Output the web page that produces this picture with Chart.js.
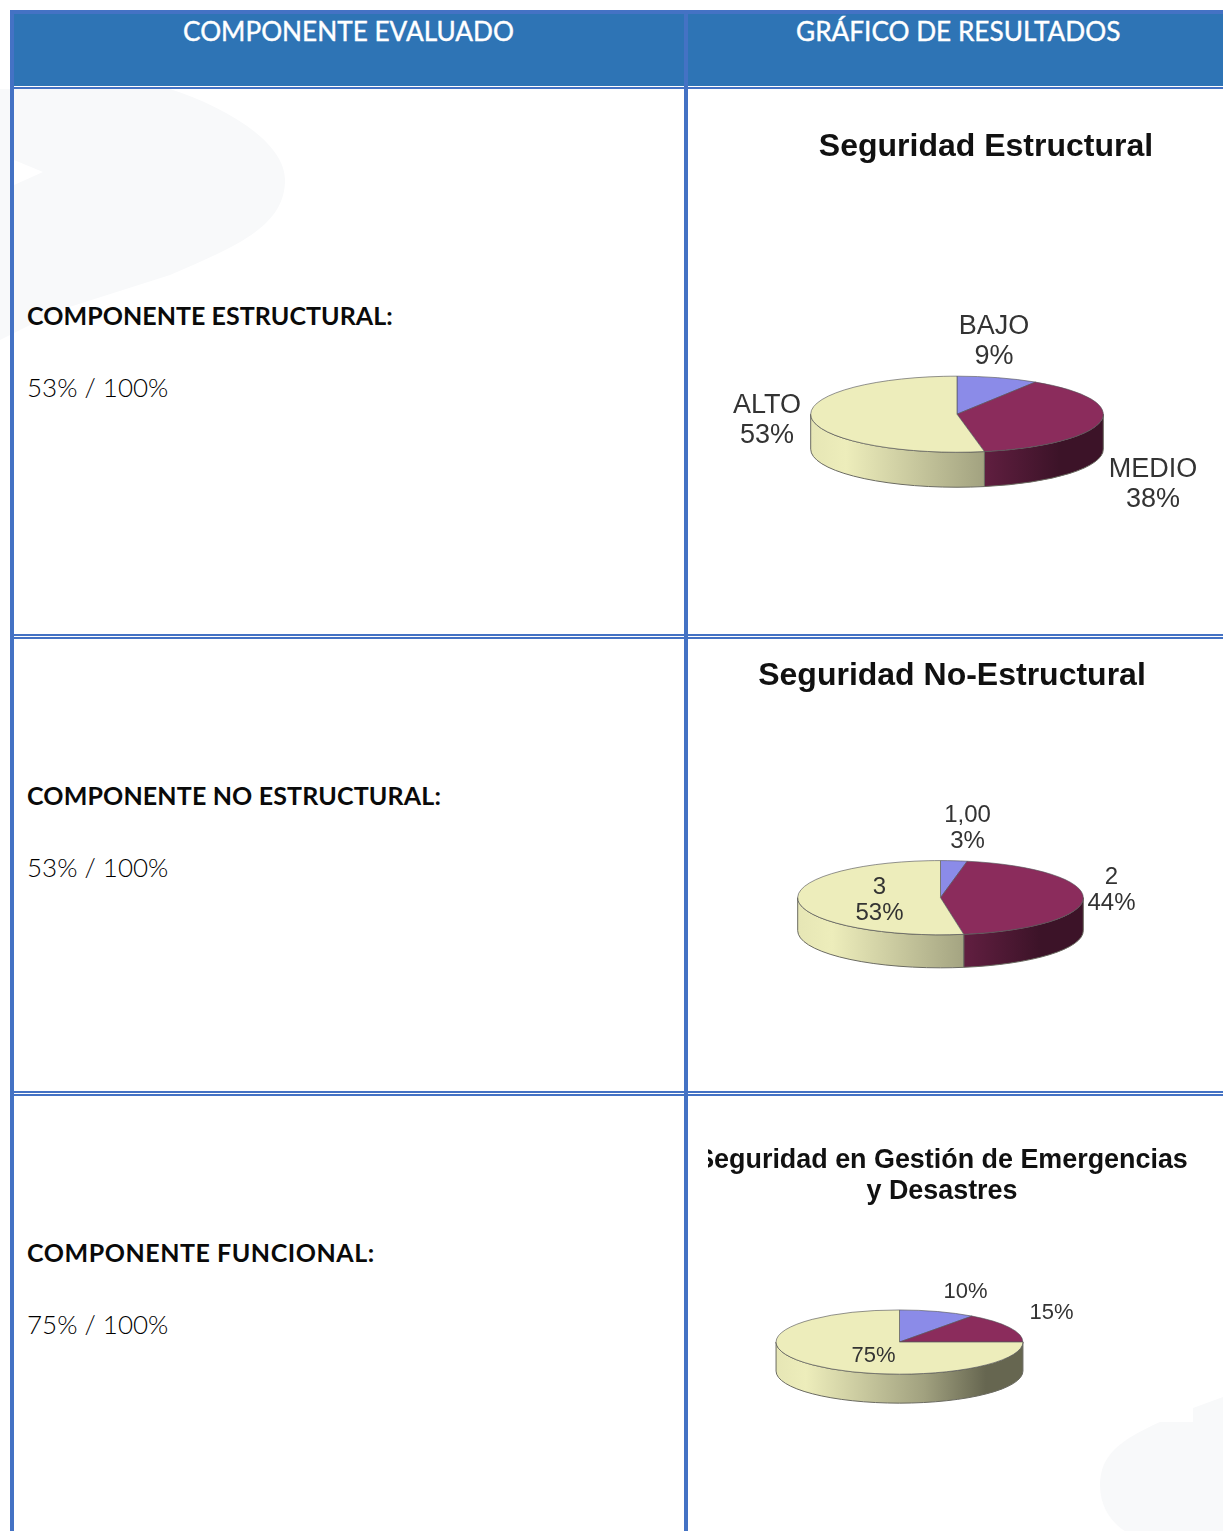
<!DOCTYPE html>
<html>
<head>
<meta charset="utf-8">
<script src="https://cdn.jsdelivr.net/npm/chart.js@4"></script>
<style>
html, body { margin: 0; padding: 0; background: #fff; }
body { position: relative; width: 1223px; height: 1531px; overflow: hidden; font-family: Lato, sans-serif; }
.abs { position: absolute; }
.line { position: absolute; background: #4472c4; }
.head { position: absolute; top: 13px; height: 36px; line-height: 36px; color: #fff; font-size: 26.2px; font-weight: 400; -webkit-text-stroke: 0.4px #fff; white-space: nowrap; }
.name { position: absolute; left: 27px; font-size: 25px; font-weight: 700; letter-spacing: 0.05px; line-height: 32px; color: #0a0a0a; white-space: nowrap; }
.score { position: absolute; left: 27px; font-size: 26px; font-weight: 300; line-height: 32px; color: #000; white-space: nowrap; }
canvas { position: absolute; }
</style>
</head>
<body>
<svg class="abs" style="left:0;top:0" width="1223" height="1531">
  <path fill="#f8f9fa" d="M0 89 L170 89 C220 105 285 140 285 180 C285 225 240 245 170 275 L60 310 L0 340 Z M14 160 L43 172 L14 185 Z" fill-rule="evenodd"/>
  <path fill="#f8f9fa" d="M1223 1397 L1193 1408 L1193 1422 L1160 1422 C1120 1440 1100 1455 1100 1485 C1100 1510 1115 1525 1125 1531 L1223 1531 Z"/>
</svg>

<div class="abs" style="left:10px;top:10px;width:1213px;height:76px;background:#2e74b5"></div>
<div class="line" style="left:10px;top:10px;width:1213px;height:4px"></div>
<div class="line" style="left:10px;top:10px;width:4px;height:1521px"></div>
<div class="line" style="left:684px;top:10px;width:4px;height:1521px"></div>
<div class="line" style="left:12px;top:87px;width:1211px;height:2px"></div>
<div class="line" style="left:12px;top:634px;width:1211px;height:2px"></div>
<div class="line" style="left:12px;top:637px;width:1211px;height:2px"></div>
<div class="line" style="left:12px;top:1091px;width:1211px;height:2px"></div>
<div class="line" style="left:12px;top:1094px;width:1211px;height:2px"></div>

<div class="head" style="left:183px">COMPONENTE EVALUADO</div>
<div class="head" style="left:796px">GRÁFICO DE RESULTADOS</div>

<div class="name" style="top:299px">COMPONENTE ESTRUCTURAL:</div>
<div class="score" style="top:371px">53% / 100%</div>
<div class="name" style="top:779px;letter-spacing:0.15px">COMPONENTE NO ESTRUCTURAL:</div>
<div class="score" style="top:851px">53% / 100%</div>
<div class="name" style="top:1236px;letter-spacing:0.55px">COMPONENTE FUNCIONAL:</div>
<div class="score" style="top:1308px">75% / 100%</div>

<canvas id="chartEstructural" style="left:690px;top:90px" width="533" height="544"></canvas>
<canvas id="chartNoEstructural" style="left:690px;top:639px" width="533" height="452"></canvas>
<canvas id="chartFuncional" style="left:690px;top:1096px;clip-path:inset(0 0 0 18px)" width="533" height="435"></canvas>

<script>
// Values
const estructuralLabels = ['BAJO', 'MEDIO', 'ALTO'];
const estructuralValues = [9, 38, 53];
const noEstructuralLabels = ['1,00', '2', '3'];
const noEstructuralValues = [3, 44.4, 52.6];
const funcionalLabels = ['', '', ''];
const funcionalValues = [10, 15, 75];

const sliceColors = ['#8b8be8', '#8b2c5c', '#ededbb'];
const sliceRgb = [[139, 139, 232], [139, 44, 92], [237, 237, 187]];
// darkening of the side wall from left to right
const sideStops = [[0, 0.97], [0.12, 1], [0.6, 0.68], [0.85, 0.43], [1, 0.43]];

// Flattens the pie into an ellipse and draws the wall under it
const pie3d = {
    id: 'pie3d',
    afterLayout(chart, args, opts) {
        // title is not centred on the pie in the original
        chart.titleBlock.left = opts.titleCenter - 400;
        chart.titleBlock.right = opts.titleCenter + 400;
    },
    beforeDatasetsDraw(chart, args, opts) {
        const ctx = chart.ctx;
        const arcs = chart.getDatasetMeta(0).data;
        const cx = arcs[0].x, cy = arcs[0].y, r = arcs[0].outerRadius;
        const ry = r * opts.squash;
        arcs.forEach(function(arc, i) {
            const a1 = Math.max(arc.startAngle, 0);
            const a2 = Math.min(arc.endAngle, Math.PI);
            if (a1 >= a2) return;
            const grad = ctx.createLinearGradient(cx - r, 0, cx + r, 0);
            sideStops.forEach(function(s) {
                const c = sliceRgb[i].map(v => Math.round(v * s[1]));
                grad.addColorStop(s[0], 'rgb(' + c.join(',') + ')');
            });
            ctx.beginPath();
            ctx.ellipse(cx, cy, r, ry, 0, a1, a2);
            ctx.ellipse(cx, cy + opts.depth, r, ry, 0, a2, a1, true);
            ctx.closePath();
            ctx.fillStyle = grad;
            ctx.fill();
            ctx.strokeStyle = '#6a6a60';
            ctx.lineWidth = 1;
            ctx.stroke();
        });
        ctx.save();
        ctx.translate(cx, cy);
        ctx.scale(1, opts.squash);
        ctx.translate(-cx, -cy);
    },
    afterDatasetsDraw(chart, args, opts) {
        const ctx = chart.ctx;
        ctx.restore();
        const arcs = chart.getDatasetMeta(0).data;
        const values = chart.data.datasets[0].data;
        ctx.save();
        ctx.fillStyle = '#333';
        ctx.font = opts.labelSize + 'px "Liberation Sans"';
        ctx.textAlign = 'center';
        ctx.textBaseline = 'middle';
        arcs.forEach(function(arc, i) {
            const x = arc.x + opts.labelOffsets[i][0];
            const y = arc.y + opts.labelOffsets[i][1];
            const name = chart.data.labels[i];
            if (name) {
                ctx.fillText(name, x, y - opts.labelLine);
            }
            ctx.fillText(Math.round(values[i]) + '%', x, y);
        });
        ctx.restore();
    }
};

function drawPie(id, labels, values, title, look) {
    new Chart(document.getElementById(id), {
        type: 'pie',
        data: {
            labels: labels,
            datasets: [{
                data: values,
                backgroundColor: sliceColors,
                borderColor: '#55555a',
                borderWidth: 1,
                clip: false
            }]
        },
        options: {
            responsive: false,
            animation: false,
            layout: { padding: look.padding },
            plugins: {
                legend: { display: false },
                tooltip: { enabled: false },
                title: {
                    display: true,
                    text: title,
                    color: '#111',
                    font: { family: '"Liberation Sans"', size: look.titleSize, weight: 'bold', lineHeight: look.titleLine },
                    padding: look.titlePadding
                },
                pie3d: {
                    squash: 0.26,
                    depth: look.depth,
                    titleCenter: look.titleCenter,
                    labelSize: look.labelSize,
                    labelLine: look.labelLine,
                    labelOffsets: look.labelOffsets
                }
            }
        },
        plugins: [pie3d]
    });
}

drawPie('chartEstructural', estructuralLabels, estructuralValues, 'Seguridad Estructural', {
    padding: { left: 120, right: 119, top: 0, bottom: 73 },
    titleSize: 32, titleLine: 1.2, titlePadding: { top: 38, bottom: 101 }, titleCenter: 296,
    depth: 35, labelSize: 27, labelLine: 30,
    labelOffsets: [[37, -58], [196, 85], [-190, 21]]
});
drawPie('chartNoEstructural', noEstructuralLabels, noEstructuralValues, 'Seguridad No-Estructural', {
    padding: { left: 107, right: 139, top: 0, bottom: 50 },
    titleSize: 32, titleLine: 1.2, titlePadding: { top: 18, bottom: 59 }, titleCenter: 262,
    depth: 33, labelSize: 24, labelLine: 26,
    labelOffsets: [[27, -56], [171, 6], [-61, 16]]
});
drawPie('chartFuncional', funcionalLabels, funcionalValues, ['Seguridad en Gestión de Emergencias', 'y Desastres'], {
    padding: { left: 85, right: 199, top: 0, bottom: 65 },
    titleSize: 26.9, titleLine: 1.16, titlePadding: { top: 48.5, bottom: 11.2 }, titleCenter: 252,
    depth: 29, labelSize: 22, labelLine: 24,
    labelOffsets: [[66, -50], [152, -29], [-26, 14]]
});
</script>
</body>
</html>
